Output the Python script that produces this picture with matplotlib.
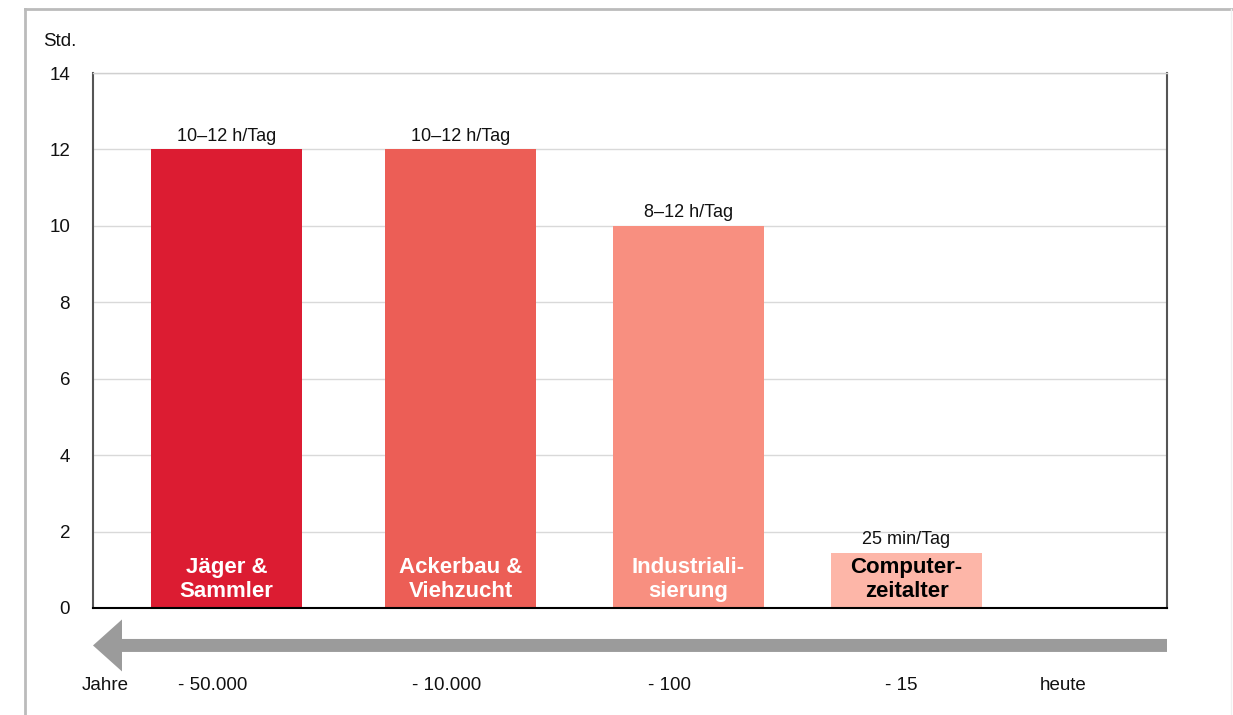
import matplotlib.pyplot as plt
from matplotlib.patches import FancyArrow
from matplotlib.lines import Line2D

plt.rcParams['font.family'] = ['Liberation Sans', 'DejaVu Sans']

# data
eras = ["Jäger &\nSammler", "Ackerbau &\nViehzucht", "Industriali-\nsierung", "Computer-\nzeitalter"]
hours = [12, 12, 10, 1.45]
value_labels = ["10–12 h/Tag", "10–12 h/Tag", "8–12 h/Tag", "25 min/Tag"]
time_labels = ["Jahre", "- 50.000", "- 10.000", "- 100", "- 15", "heute"]
yticks = [0, 2, 4, 6, 8, 10, 12, 14]

# layout (axes x runs 0..1074)
bar_x = [133.5, 367.5, 595.5, 813.5]
bar_w = 151
time_x = [12, 120, 354, 577, 808, 970]
colors = ["#DC1C32", "#EC5E56", "#F88F80", "#FDB6A8"]
text_colors = ["white", "white", "white", "black"]

fig = plt.figure(figsize=(12.33, 7.15), dpi=100)
ax = fig.add_axes([93/1233, 1-608/715, 1074/1233, 535/715])

ax.bar(bar_x, hours, width=bar_w, color=colors, zorder=2)
for x, h, lab, era, tc in zip(bar_x, hours, value_labels, eras, text_colors):
    ax.text(x, h + 0.12, lab, ha="center", va="bottom", fontsize=13, color="#111111")
    ax.text(x, 0.74, era, ha="center", va="center", fontsize=16, fontweight="bold",
            color=tc, linespacing=1.22, zorder=3)

ax.set_xlim(0, 1074)
ax.set_ylim(0, 14)
ax.set_xticks([])
ax.set_yticks(yticks)
ax.set_yticklabels([str(t) for t in yticks], fontsize=13.5, color="#111111")
ax.tick_params(axis="y", length=0, pad=16.5)
ax.grid(axis="y", color="#d9d9d9", lw=1, zorder=0)
ax.spines["left"].set_color("#555555")
ax.spines["left"].set_linewidth(1.5)
ax.spines["right"].set_color("#555555")
ax.spines["right"].set_linewidth(1.5)
ax.spines["bottom"].set_color("black")
ax.spines["bottom"].set_linewidth(1.5)
ax.spines["top"].set_color("#d0d0d0")
ax.spines["top"].set_linewidth(1)

# time arrow below the axis
arr = FancyArrow(1074, -0.98, -1074, 0, width=0.34, head_width=1.36, head_length=29,
                 length_includes_head=True, color="#9B9B9B", lw=0, clip_on=False)
ax.add_patch(arr)
for x, t in zip(time_x, time_labels):
    ax.text(x, -2.04, t, ha="center", va="center", fontsize=13.5, color="#111111", clip_on=False)

fig.text(43/1233, 1-41/715, "Std.", ha="left", va="center", fontsize=13.5, color="#111111")

# outer frame
fig.add_artist(Line2D([25/1233, 1], [1-9/715, 1-9/715], color="#bbbbbb", lw=2))
fig.add_artist(Line2D([25/1233, 25/1233], [0, 1-9/715], color="#bbbbbb", lw=2))
fig.add_artist(Line2D([1231/1233, 1231/1233], [0, 1-9/715], color="#f0f0f0", lw=1))

fig.savefig("out.png", dpi=100)
